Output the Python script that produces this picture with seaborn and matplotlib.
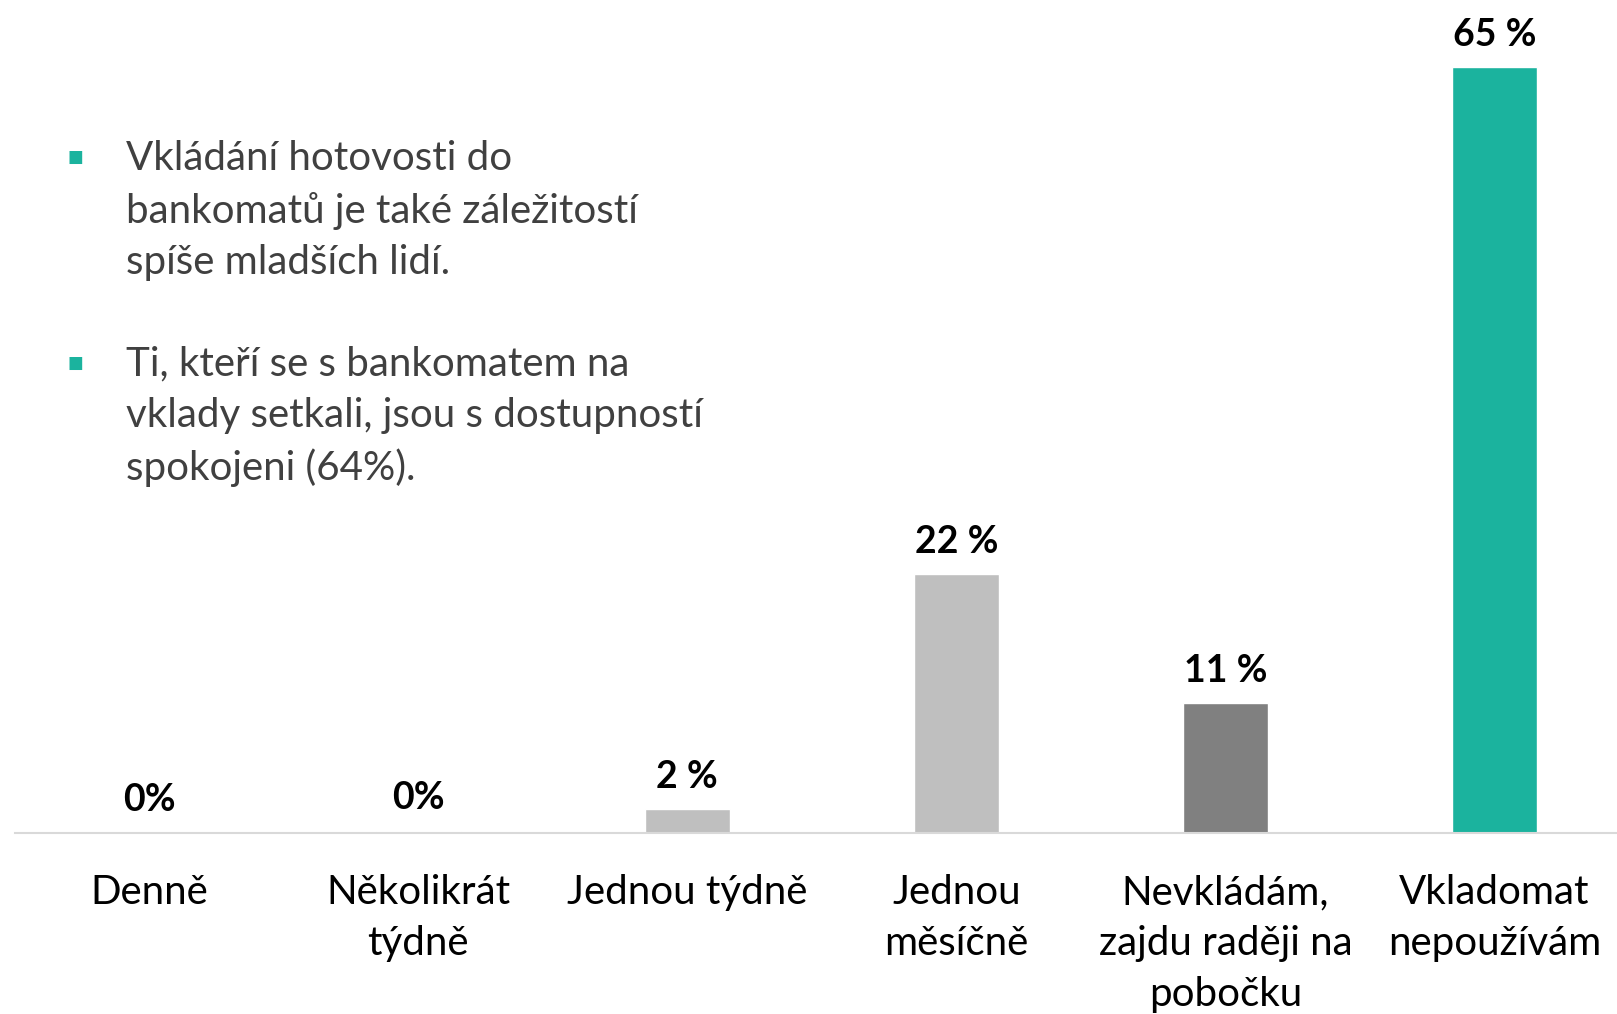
import matplotlib
matplotlib.use("Agg")
import matplotlib.pyplot as plt
import seaborn as sns

categories = ["Denně", "Několikrát\ntýdně", "Jednou týdně", "Jednou\nměsíčně",
              "Nevkládám,\nzajdu raději na\npobočku", "Vkladomat\nnepoužívám"]
values = [0.1, 0.2, 2, 22, 11, 65]
value_labels = ["0%", "0%", "2 %", "22 %", "11 %", "65 %"]
bar_colors = ["#BFBFBF", "#BFBFBF", "#BFBFBF", "#BFBFBF", "#808080", "#1BB39E"]
notes = [
    "Vkládání hotovosti do\nbankomatů je také záležitostí\nspíše mladších lidí.",
    "Ti, kteří se s bankomatem na\nvklady setkali, jsou s dostupností\nspokojeni (64%).",
]

sns.set_style("white")
plt.rcParams["font.family"] = ["Lato", "DejaVu Sans"]

fig = plt.figure(figsize=(16.17, 10.14), dpi=100)
ax = fig.add_axes([0.009, 0.1785, 0.991, 0.8215])

sns.barplot(x=categories, y=values, hue=categories, palette=bar_colors,
            legend=False, width=0.315, saturation=1, ax=ax)

# value labels over bars
for cont, lab in zip(ax.containers, value_labels):
    ax.bar_label(cont, labels=[lab], padding=11, fontsize=27,
                 fontweight="bold", color="black")

ax.set_xlim(-0.5, 5.455)
ax.set_ylim(0, 70.7)
ax.set_yticks([])
ax.set_xlabel("")
ax.set_ylabel("")
sns.despine(ax=ax, left=True, top=True, right=True)
ax.spines["bottom"].set_color("#D9D9D9")
ax.spines["bottom"].set_linewidth(1.5)
ax.tick_params(axis="x", length=0, pad=29.5, labelsize=29, labelcolor="black")
for t in ax.get_xticklabels():
    t.set_linespacing(1.46)

# bullet notes
y0 = 0.845
for i, note in enumerate(notes):
    y = y0 - i * 0.203
    fig.text(0.042, y, "■", fontsize=12, color="#1BB39E",
             va="center", ha="left", family=["DejaVu Sans"])
    fig.text(0.078, y + 0.017, note, fontsize=29, color="#404040",
             va="top", ha="left", linespacing=1.47)

fig.savefig("out.png", dpi=100)
